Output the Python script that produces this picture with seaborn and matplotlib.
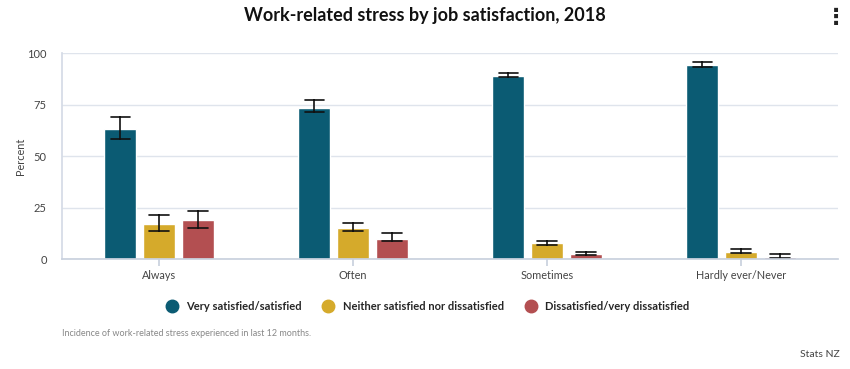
import matplotlib
matplotlib.use("Agg")
import matplotlib.pyplot as plt
from matplotlib.lines import Line2D
import seaborn as sns
import pandas as pd

categories = ["Always", "Often", "Sometimes", "Hardly ever/Never"]
groups = ["Very satisfied/satisfied", "Neither satisfied nor dissatisfied",
          "Dissatisfied/very dissatisfied"]
# estimate, lower bound, upper bound for each group (percent)
very_sat = [63.1, 73.5, 89.0, 94.2]
very_sat_lo = [58.4, 71.5, 88.2, 93.4]
very_sat_hi = [68.9, 77.0, 90.4, 95.8]
neither = [17.0, 15.2, 7.6, 3.6]
neither_lo = [13.6, 13.6, 6.8, 3.1]
neither_hi = [21.4, 17.6, 8.9, 4.9]
dissat = [19.0, 9.9, 2.3, 1.1]
dissat_lo = [15.0, 8.7, 1.9, 0.3]
dissat_hi = [23.3, 12.5, 3.5, 2.3]
colours = ["#0b5b73", "#d5aa2b", "#b34f51"]

# long table: median of (lo, est, hi) is the estimate, min-max the interval
rows = []
for g, est, lo, hi in [(groups[0], very_sat, very_sat_lo, very_sat_hi),
                       (groups[1], neither, neither_lo, neither_hi),
                       (groups[2], dissat, dissat_lo, dissat_hi)]:
    for c, e, l, h in zip(categories, est, lo, hi):
        for v in (l, e, h):
            rows.append({"stress": c, "group": g, "pct": v})
df = pd.DataFrame(rows)

sns.set_theme(style="white")
plt.rcParams["font.family"] = ["Lato", "DejaVu Sans"]

fig = plt.figure(figsize=(8.5, 3.69), dpi=100)
ax = fig.add_axes([0.073, 0.298, 0.913, 0.558])

sns.barplot(data=df, x="stress", y="pct", hue="group", order=categories,
            hue_order=groups, palette=colours, estimator="median",
            errorbar=("pi", 100), capsize=0.3, width=0.6, gap=0.18,
            err_kws={"color": "#111111", "linewidth": 1.2},
            saturation=1, legend=False, ax=ax)

ax.set_ylim(0, 100)
ax.set_xlim(-0.5, 3.5)
ax.set_yticks([0, 25, 50, 75, 100])
ax.yaxis.grid(True, color="#dfe4ec", linewidth=1)
ax.set_axisbelow(True)
for s in ["top", "right"]:
    ax.spines[s].set_visible(False)
ax.spines["left"].set_color("#d5dbe6")
ax.spines["bottom"].set_color("#c9d1de")
ax.tick_params(axis="y", length=0, labelsize=8, labelcolor="#444444", pad=11)
ax.tick_params(axis="x", length=5, color="#c9d1de", labelsize=7.8,
               labelcolor="#444444", pad=3, bottom=True)
ax.set_xlabel("")
ax.set_ylabel("Percent", fontsize=7.8, color="#444444", labelpad=1)

fig.text(0.5, 0.957, "Work-related stress by job satisfaction, 2018",
         ha="center", va="center", fontsize=13, fontweight="bold", color="#111111")
fig.text(0.984, 0.95, "\u22ee", ha="center", va="center", fontsize=16,
         fontweight="bold", color="#222222", family=["DejaVu Sans"])

handles = [Line2D([], [], marker="o", linestyle="", markersize=9,
                  markerfacecolor=c, markeredgecolor=c) for c in colours]
leg = fig.legend(handles, groups, loc="center", bbox_to_anchor=(0.5, 0.17),
                 ncol=3, frameon=False, handletextpad=0.3, columnspacing=1.4,
                 prop={"weight": "bold", "size": 8})

fig.text(0.073, 0.095, "Incidence of work-related stress experienced in last 12 months.",
         ha="left", va="center", fontsize=6.5, color="#888888")
fig.text(0.988, 0.038, "Stats NZ", ha="right", va="center", fontsize=7.5,
         color="#444444")

fig.savefig("out.png", dpi=100)
